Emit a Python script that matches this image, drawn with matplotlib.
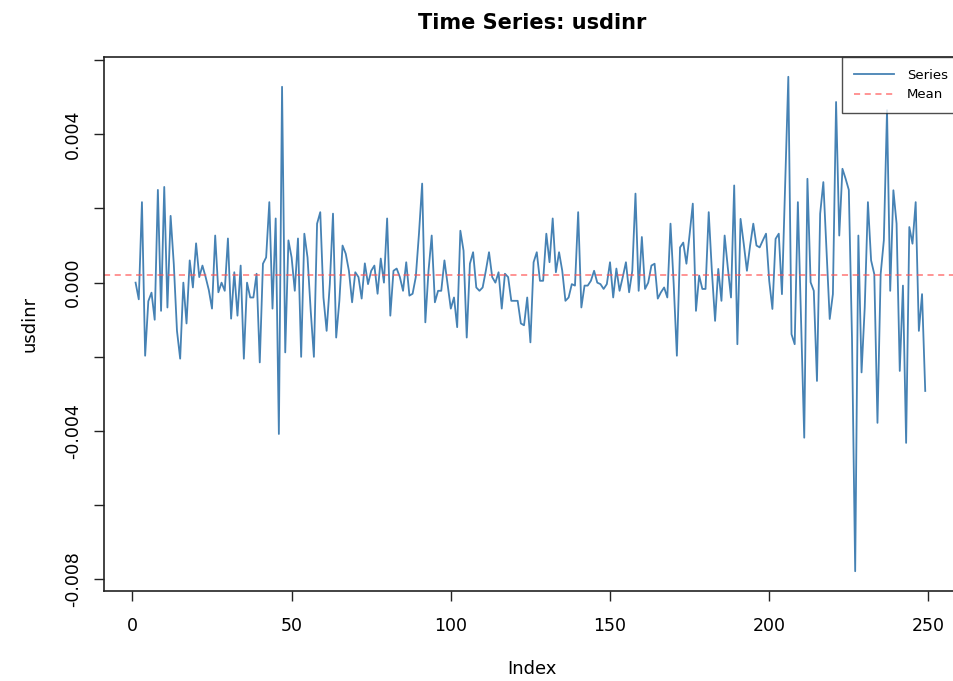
import numpy as np
import matplotlib
matplotlib.use("Agg")
import matplotlib.pyplot as plt

# series values, in thousandths (x 1e-3)
usdinr_milli = [
    0.0, -0.45, 2.17, -1.97, -0.5, -0.27, -1.0, 2.5, -0.76, 2.58,
    -0.67, 1.8, 0.5, -1.3, -2.05, 0.0, -1.1, 0.6, -0.13, 1.06,
    0.15, 0.46, 0.15, -0.2, -0.7, 1.27, -0.26, 0.0, -0.22, 1.19,
    -0.97, 0.28, -0.89, 0.46, -2.05, 0.0, -0.4, -0.4, 0.24, -2.15,
    0.51, 0.68, 2.17, -0.7, 1.73, -4.08, 5.28, -1.88, 1.14, 0.68,
    -0.22, 1.19, -2.0, 1.32, 0.68, -0.76, -2.0, 1.59, 1.9, -0.4,
    -1.3, -0.04, 1.86, -1.48, -0.49, 1.0, 0.78, 0.32, -0.53, 0.28,
    0.15, -0.43, 0.52, -0.04, 0.32, 0.46, -0.3, 0.65, 0.0, 1.73,
    -0.89, 0.32, 0.38, 0.15, -0.22, 0.55, -0.35, -0.3, 0.15, 1.32,
    2.67, -1.07, 0.32, 1.27, -0.53, -0.22, -0.22, 0.6, -0.04, -0.7,
    -0.4, -1.2, 1.4, 0.86, -1.48, 0.51, 0.82, -0.13, -0.22, -0.13,
    0.32, 0.82, 0.15, 0.0, 0.28, -0.7, 0.24, 0.15, -0.49, -0.49,
    -0.49, -1.1, -1.15, -0.4, -1.61, 0.55, 0.82, 0.05, 0.05, 1.32,
    0.55, 1.73, 0.28, 0.82, 0.32, -0.49, -0.4, -0.04, -0.08, 1.9,
    -0.67, -0.08, -0.08, 0.05, 0.32, 0.0, -0.04, -0.17, -0.04, 0.55,
    -0.4, 0.38, -0.22, 0.15, 0.55, -0.26, 0.32, 2.4, -0.22, 1.23,
    -0.17, 0.0, 0.46, 0.51, -0.43, -0.26, -0.13, -0.4, 1.59, -0.04,
    -1.97, 0.95, 1.08, 0.51, 1.3, 2.13, -0.76, 0.19, -0.17, -0.17,
    1.9, 0.3, -1.03, 0.37, -0.49, 1.27, 0.4, -0.4, 2.62, -1.66,
    1.72, 1.05, 0.32, 1.0, 1.59, 1.0, 0.95, 1.14, 1.32, 0.05,
    -0.71, 1.18, 1.32, -0.31, 2.58, 5.55, -1.39, -1.66, 2.17, -1.03,
    -4.18, 2.8, 0.01, -0.22, -2.65, 1.86, 2.71, 0.86, -0.98, -0.31,
    4.87, 1.27, 3.07, 2.8, 2.5, -1.5, -7.78, 1.27, -2.42, -0.67,
    2.17, 0.6, 0.23, -3.78, 0.23, 1.14, 4.65, -0.22, 2.49, 1.59,
    -2.38, -0.08, -4.32, 1.5, 1.05, 2.17, -1.3, -0.31, -2.92,
]
usdinr = np.array(usdinr_milli) / 1000.0
index = np.arange(1, len(usdinr) + 1)
mean_value = usdinr.mean()

x_ticks = [0, 50, 100, 150, 200, 250]
y_ticks = [-0.008, -0.006, -0.004, -0.002, 0.0, 0.002, 0.004, 0.006]
y_labels = ['-0.008', '', '-0.004', '', '0.000', '', '0.004', '']

fig = plt.figure(figsize=(9.54, 6.81), dpi=100)
# right edge of the box runs past the image, like the cropped original
ax = fig.add_axes([104/954, 90/681, 856/954, 534/681])

ax.plot(index, usdinr, color='steelblue', lw=1.3, label='Series')
ax.axhline(mean_value, color='#ff5555', lw=1.1, ls=(0, (4, 3)), alpha=0.8,
           label='Mean')

# R style axis ranges (4% padding)
pad_x = 0.04 * (index[-1] - index[0])
ax.set_xlim(index[0] - pad_x, index[-1] + pad_x + 1)
pad_y = 0.04 * (usdinr.max() - usdinr.min())
ax.set_ylim(usdinr.min() - pad_y, usdinr.max() + pad_y)

ax.set_xticks(x_ticks)
ax.set_yticks(y_ticks)
ax.set_yticklabels(y_labels, rotation=90, va='center')
ax.tick_params(axis='both', length=7, width=1, labelsize=12.5, color='#222222')
ax.tick_params(axis='x', pad=12)
ax.tick_params(axis='y', pad=9)
for s in ax.spines.values():
    s.set_linewidth(1.2)
    s.set_color('#222222')

ax.set_title('Time Series: usdinr', fontsize=15, fontweight='bold', pad=20)
ax.set_xlabel('Index', fontsize=13, labelpad=18)
ax.set_ylabel('usdinr', fontsize=13, labelpad=18)

leg = ax.legend(loc='upper right', fontsize=9.5, frameon=True, fancybox=False,
                borderaxespad=0, handlelength=3.0, borderpad=0.9,
                handletextpad=1.0)
leg.get_frame().set_edgecolor('#222222')
leg.get_frame().set_linewidth(1.0)

fig.savefig('out.png', dpi=100)
